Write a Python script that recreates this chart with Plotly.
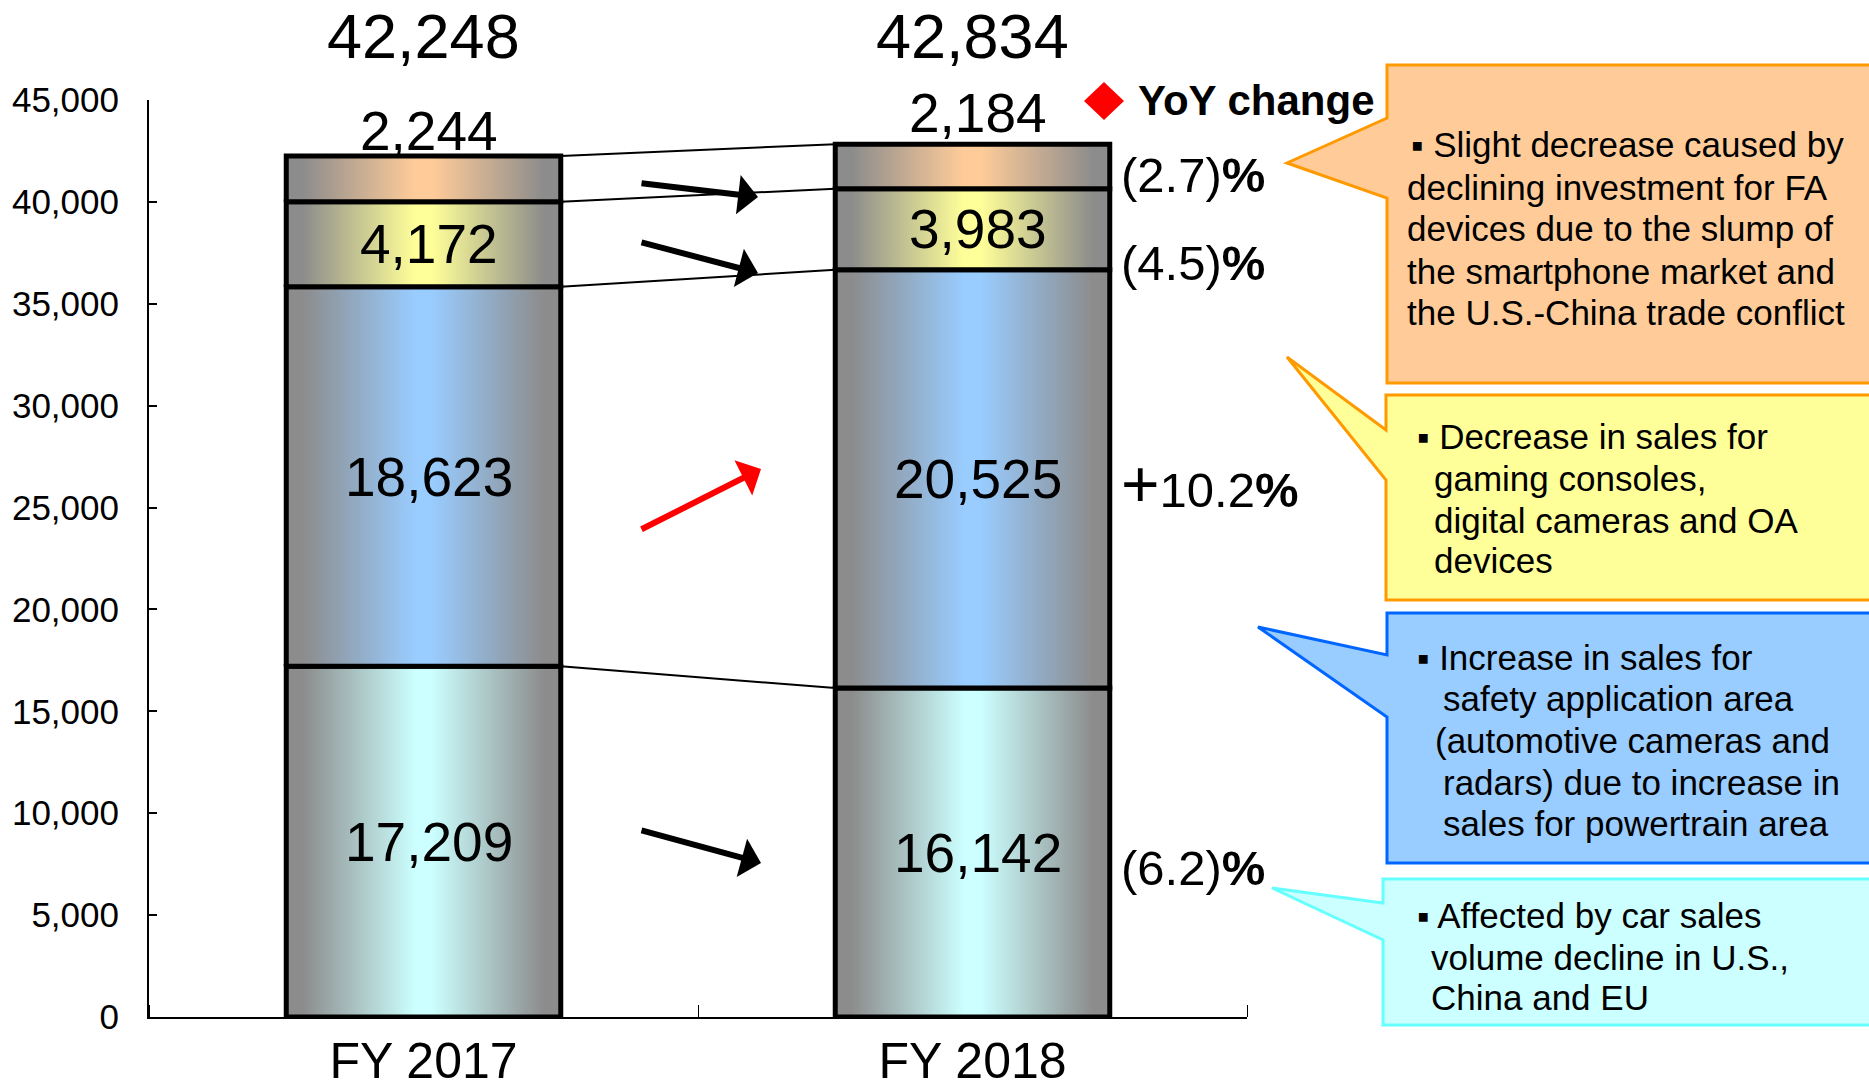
import plotly.graph_objects as go

# ---------------- data ----------------
years = ["FY 2017", "FY 2018"]
segment_names = ["Powertrain", "Safety", "Consumer / OA", "FA devices"]
powertrain = [17209, 16142]
safety = [18623, 20525]
consumer = [4172, 3983]
fa_devices = [2244, 2184]
segment_values = [powertrain, safety, consumer, fa_devices]
segment_colors = ["#CCFFFF", "#99CCFF", "#FFFF99", "#FFCC99"]
y_tick_values = [0, 5000, 10000, 15000, 20000, 25000, 30000, 35000, 40000, 45000]

callout_orange = ["▪ Slight decrease caused by", "declining investment for FA",
                  "devices due to the slump of", "the smartphone market and",
                  "the U.S.-China trade conflict"]
callout_yellow = ["▪ Decrease in sales for", "gaming consoles,",
                  "digital cameras and OA", "devices"]
callout_blue = ["▪ Increase in sales for", "safety application area",
                "(automotive cameras and", "radars) due to increase in",
                "sales for powertrain area"]
callout_cyan = ["▪ Affected by car sales", "volume decline in U.S.,", "China and EU"]

# ---------------- geometry / style ----------------
FONT = "Liberation Sans, Arial, Helvetica, sans-serif"
W, H = 1869, 1091
ML, MR, MT, MB = 149, 622, 100, 74
PW, PH = W - ML - MR, H - MT - MB
GRAY = "#8C8C8C"
BAR_W = 0.5
x_pos = list(range(len(years)))


def px(x):
    return (x - ML) / PW


def py(y):
    return (H - MB - y) / PH


def path(points):
    pts = [f"{px(x):.5f},{py(y):.5f}" for x, y in points]
    return "M" + " L".join(pts) + " Z"


fig = go.Figure()

# stacked bars drawn as gradient-filled polygons
n = len(years)
bases = [[0] * n]
for seg in segment_values:
    bases.append([bases[-1][i] + seg[i] for i in range(n)])

for j, seg in enumerate(segment_values):
    for i in range(n):
        x0, x1 = x_pos[i] - BAR_W / 2, x_pos[i] + BAR_W / 2
        y0, y1 = bases[j][i], bases[j + 1][i]
        fig.add_trace(go.Scatter(
            x=[x0, x1, x1, x0, x0], y=[y0, y0, y1, y1, y0],
            mode="lines", fill="toself",
            fillgradient=dict(type="horizontal",
                              colorscale=[[0, GRAY], [0.06, GRAY], [0.47, segment_colors[j]],
                                          [0.53, segment_colors[j]], [0.94, GRAY], [1, GRAY]]),
            line=dict(color="black", width=5),
            name=segment_names[j], cliponaxis=False, hoverinfo="skip",
            showlegend=False))

# connector lines between the stacks
cx, cy = [], []
for j in range(1, len(bases)):
    cx += [x_pos[0] + BAR_W / 2, x_pos[1] - BAR_W / 2, None]
    cy += [bases[j][0], bases[j][1], None]
fig.add_trace(go.Scatter(x=cx, y=cy, mode="lines", line=dict(color="black", width=2),
                         hoverinfo="skip", showlegend=False, cliponaxis=False))

annotations = []
totals = bases[-1]
for i in range(n):
    annotations.append(dict(x=x_pos[i], xref="x", y=py(36), yref="paper",
                            text=f"{totals[i]:,}", showarrow=False,
                            font=dict(size=63), xanchor="center", yanchor="middle"))

# segment value labels
top_label_shift = [25, 31]
for j, seg in enumerate(segment_values):
    for i in range(n):
        if j == len(segment_values) - 1:
            yv, ys = bases[j + 1][i], top_label_shift[i]
        else:
            yv, ys = (bases[j][i] + bases[j + 1][i]) / 2, 0
        annotations.append(dict(x=x_pos[i], y=yv, xref="x", yref="y", yshift=ys, xshift=5,
                                text=f"{seg[i]:,}", showarrow=False,
                                font=dict(size=55), xanchor="center", yanchor="middle"))

# YoY change labels
yoy_shift = [-15, -5, -34, -9]
for j, seg in enumerate(segment_values):
    p = (seg[1] / seg[0] - 1) * 100
    if p < 0:
        txt = f"({abs(p):.1f})<b>%</b>"
    else:
        txt = f"<span style='font-size:66px'>+</span>{p:.1f}<b>%</b>"
    annotations.append(dict(x=x_pos[1] + BAR_W / 2, y=(bases[j][1] + bases[j + 1][1]) / 2,
                            xref="x", yref="y", xshift=9, yshift=yoy_shift[j],
                            text=txt, showarrow=False, font=dict(size=49),
                            xanchor="left", yanchor="middle"))

# legend-like "YoY change"
annotations.append(dict(x=px(1136), y=py(101), xref="paper", yref="paper",
                        text="<b>YoY change</b>", showarrow=False, font=dict(size=42),
                        xanchor="left", yanchor="middle"))

# trend arrows (head, tail in pixels)
arrows = [((758, 197), (640, 183), "black"),
          ((758, 273), (640, 242), "black"),
          ((761, 469), (640, 530), "red"),
          ((761, 863), (640, 830), "black")]
for (hx, hy), (tx, ty), col in arrows:
    annotations.append(dict(x=px(hx), y=py(hy), xref="paper", yref="paper",
                            ax=tx - hx, ay=ty - hy, text="", showarrow=True,
                            arrowhead=1, arrowsize=1.1, arrowwidth=6, arrowcolor=col,
                            standoff=0, startstandoff=0))


# callout texts
def add_lines(lines, xs, ys):
    for t, x, y in zip(lines, xs, ys):
        annotations.append(dict(x=px(x), y=py(y), xref="paper", yref="paper", text=t,
                                showarrow=False, font=dict(size=35),
                                xanchor="left", yanchor="middle", align="left"))


add_lines(callout_orange, [1409, 1405, 1405, 1405, 1405], [144, 187, 229, 271, 312])
add_lines(callout_yellow, [1415, 1432, 1432, 1432], [436, 478, 520, 560])
add_lines(callout_blue, [1415, 1441, 1433, 1441, 1441], [657, 698, 740, 782, 823])
add_lines(callout_cyan, [1415, 1429, 1429], [915, 957, 997])

shapes = []
shapes.append(dict(type="path", xref="paper", yref="paper",
                   path=path([(1387, 65), (1885, 65), (1885, 383), (1387, 383), (1387, 198),
                              (1287, 163), (1387, 118)]),
                   fillcolor="#FFCC99", line=dict(color="#FF9900", width=3), layer="below"))
shapes.append(dict(type="path", xref="paper", yref="paper",
                   path=path([(1386, 395), (1885, 395), (1885, 600), (1386, 600), (1386, 480),
                              (1287, 357), (1386, 430)]),
                   fillcolor="#FFFF99", line=dict(color="#FF9900", width=3), layer="below"))
shapes.append(dict(type="path", xref="paper", yref="paper",
                   path=path([(1387, 613), (1885, 613), (1885, 863), (1387, 863), (1387, 717),
                              (1258, 627), (1387, 655)]),
                   fillcolor="#99CCFF", line=dict(color="#0066FF", width=3), layer="below"))
shapes.append(dict(type="path", xref="paper", yref="paper",
                   path=path([(1383, 879), (1885, 879), (1885, 1025), (1383, 1025), (1383, 940),
                              (1272, 888), (1383, 903)]),
                   fillcolor="#CCFFFF", line=dict(color="#66FFFF", width=3), layer="below"))
# red diamond marker for "YoY change"
shapes.append(dict(type="path", xref="paper", yref="paper",
                   path=path([(1084, 101), (1104, 82), (1124, 101), (1104, 120)]),
                   fillcolor="#FF0000", line=dict(width=0)))

fig.update_layout(
    width=W, height=H, autosize=False,
    margin=dict(l=ML, r=MR, t=MT, b=MB, pad=0, autoexpand=False),
    plot_bgcolor="white", paper_bgcolor="white",
    font=dict(family=FONT, color="black"),
    showlegend=False,
    annotations=annotations, shapes=shapes,
    xaxis=dict(range=[-0.5, 1.5], tickvals=x_pos, ticktext=years, ticks="",
               showline=True, linecolor="black", linewidth=2, showgrid=False,
               zeroline=False, tickfont=dict(size=50), ticklabelstandoff=-1,
               automargin=False,
               minor=dict(tickvals=[-0.5, 0.5, 1.5], ticks="inside", ticklen=12,
                          tickwidth=1, tickcolor="black", showgrid=False)),
    yaxis=dict(range=[0, 45000], tickvals=y_tick_values, tickformat=",d",
               ticks="inside", ticklen=8, tickwidth=2, tickcolor="black",
               showline=True, linecolor="black", linewidth=2, showgrid=False,
               zeroline=False, tickfont=dict(size=35), ticklabelstandoff=21,
               automargin=False),
)

fig.write_html("out.html", config={"displayModeBar": False},
               post_script="document.body.style.margin='0';document.body.style.overflow='hidden';")
